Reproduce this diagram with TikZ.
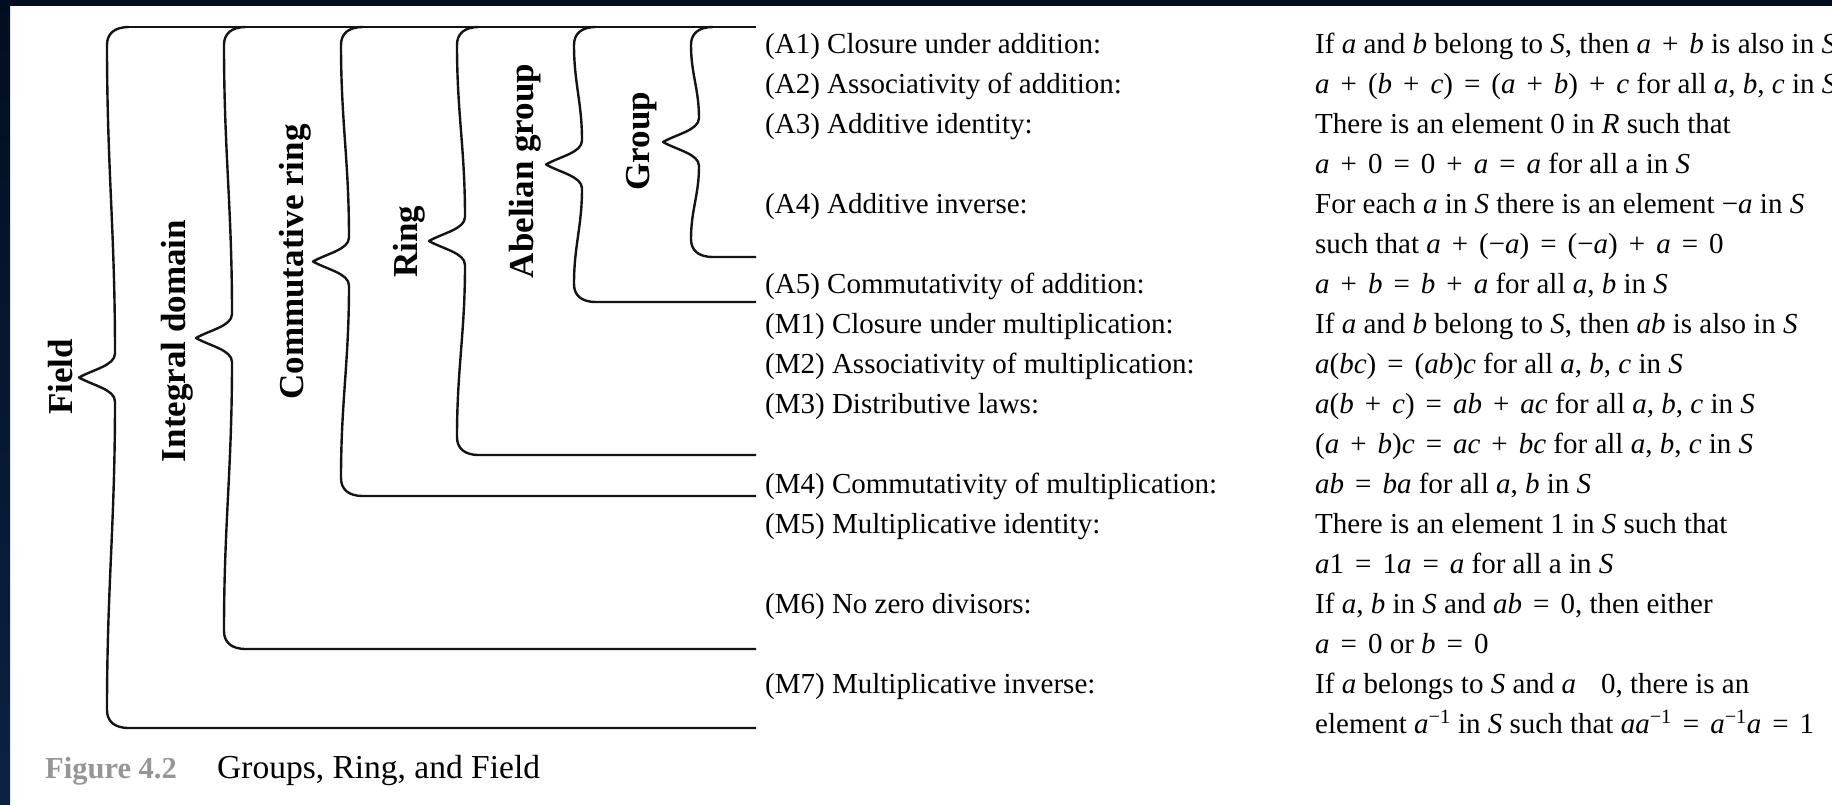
\documentclass[tikz,border=0pt]{standalone}
\usepackage{fontspec}
\setmainfont{Liberation Serif}
\definecolor{navytop}{RGB}{2,14,32}
\definecolor{navybot}{RGB}{10,34,66}
\definecolor{capgray}{RGB}{150,150,150}
\definecolor{ink}{RGB}{20,20,20}
\newcommand{\I}[1]{\textit{#1}}
\newcommand{\op}[1]{\hspace{11pt}#1\hspace{11pt}}
\newcommand{\inv}{\textsuperscript{−1}}
\newcommand{\drawbrace}[2]{%
 \pgfmathsetmacro{\ym}{(27+#2)/2}%
 \pgfmathsetmacro{\La}{(\ym-24-45)*0.4}%
 \draw[brl] ({#1+22},27) .. controls ({#1+7},27) and ({#1},34) .. ({#1},45)
  .. controls ({#1},{45+\La}) and ({#1+8},{\ym-24-\La}) .. ({#1+8},{\ym-24})
  .. controls ({#1+8},{\ym-12}) and ({#1-14},{\ym-8}) .. ({#1-28},\ym)
  .. controls ({#1-14},{\ym+8}) and ({#1+8},{\ym+12}) .. ({#1+8},{\ym+24})
  .. controls ({#1+8},{\ym+24+\La}) and ({#1},{#2-18-\La}) .. ({#1},{#2-18})
  .. controls ({#1},{#2-7}) and ({#1+7},#2) .. ({#1+22},#2) -- (756,#2);
}
\begin{document}
\begin{tikzpicture}[x=1pt,y=-1pt,
  brl/.style={line width=2.4pt, draw=ink, line join=round, line cap=butt},
  vlab/.style={rotate=90, anchor=base, inner sep=0pt, font=\fontsize{35}{40}\selectfont\bfseries},
  txt/.style={anchor=base west, inner sep=0pt, font=\fontsize{29}{35}\selectfont}]
\useasboundingbox (0,0) rectangle (1832,804);
\fill[white] (0,0) rectangle (1832,804);
\fill[navytop] (0,0) rectangle (1832,6);
\shade[top color=navytop, bottom color=navybot] (0,0) rectangle (10,804);

% braces
\draw[brl] (129,27) -- (756,27);
\drawbrace{107}{728}
\drawbrace{224}{649}
\drawbrace{341}{496}
\drawbrace{457}{455}
\drawbrace{574}{302}
\drawbrace{691}{257}

% vertical labels
\node[vlab] (field) at (72,377) {Field};
\node[vlab] (integral) at (185,341) {Integral domain};
\node[vlab] (commring) at (303,262) {Commutative ring};
\node[vlab] (ring) at (417,242) {Ring};
\node[vlab] (abelian) at (533,171) {Abelian group};
\node[vlab] (group) at (649,141) {Group};

% property names
\node[txt] (l0) at (765,53) {(A1) Closure under addition:};
\node[txt] (l1) at (765,93) {(A2) Associativity of addition:};
\node[txt] (l2) at (765,133) {(A3) Additive identity:};
\node[txt] (l4) at (765,213) {(A4) Additive inverse:};
\node[txt] (l6) at (765,293) {(A5) Commutativity of addition:};
\node[txt] (l7) at (765,333) {(M1) Closure under multiplication:};
\node[txt] (l8) at (765,373) {(M2) Associativity of multiplication:};
\node[txt] (l9) at (765,413) {(M3) Distributive laws:};
\node[txt] (l11) at (765,493) {(M4) Commutativity of multiplication:};
\node[txt] (l12) at (765,533) {(M5) Multiplicative identity:};
\node[txt] (l14) at (765,613) {(M6) No zero divisors:};
\node[txt] (l16) at (765,693) {(M7) Multiplicative inverse:};

% descriptions
\node[txt] (d0) at (1315,53) {If \I{a} and \I{b} belong to \I{S}, then \I{a}\op{+}\I{b} is also in \I{S}};
\node[txt] (d1) at (1315,93) {\I{a}\op{+}(\I{b}\op{+}\I{c})\op{=}(\I{a}\op{+}\I{b})\op{+}\I{c} for all \I{a}, \I{b}, \I{c} in \I{S}};
\node[txt] (d2) at (1315,133) {There is an element 0 in \I{R} such that};
\node[txt] (d3) at (1315,173) {\I{a}\op{+}0\op{=}0\op{+}\I{a}\op{=}\I{a} for all a in \I{S}};
\node[txt] (d4) at (1315,213) {For each \I{a} in \I{S} there is an element −\I{a} in \I{S}};
\node[txt] (d5) at (1315,253) {such that \I{a}\op{+}(−\I{a})\op{=}(−\I{a})\op{+}\I{a}\op{=}0};
\node[txt] (d6) at (1315,293) {\I{a}\op{+}\I{b}\op{=}\I{b}\op{+}\I{a} for all \I{a}, \I{b} in \I{S}};
\node[txt] (d7) at (1315,333) {If \I{a} and \I{b} belong to \I{S}, then \I{ab} is also in \I{S}};
\node[txt] (d8) at (1315,373) {\I{a}(\I{bc})\op{=}(\I{ab})\I{c} for all \I{a}, \I{b}, \I{c} in \I{S}};
\node[txt] (d9) at (1315,413) {\I{a}(\I{b}\op{+}\I{c})\op{=}\I{ab}\op{+}\I{ac} for all \I{a}, \I{b}, \I{c} in \I{S}};
\node[txt] (d10) at (1315,453) {(\I{a}\op{+}\I{b})\I{c}\op{=}\I{ac}\op{+}\I{bc} for all \I{a}, \I{b}, \I{c} in \I{S}};
\node[txt] (d11) at (1315,493) {\I{ab}\op{=}\I{ba} for all \I{a}, \I{b} in \I{S}};
\node[txt] (d12) at (1315,533) {There is an element 1 in \I{S} such that};
\node[txt] (d13) at (1315,573) {\I{a}1\op{=}1\I{a}\op{=}\I{a} for all a in \I{S}};
\node[txt] (d14) at (1315,613) {If \I{a}, \I{b} in \I{S} and \I{ab}\op{=}0, then either};
\node[txt] (d15) at (1315,653) {\I{a}\op{=}0 or \I{b}\op{=}0};
\node[txt] (d16) at (1315,693) {If \I{a} belongs to \I{S} and \I{a}\hspace{25pt}0, there is an};
\node[txt] (d17) at (1315,733) {element \I{a}\inv{} in \I{S} such that \I{aa}\inv\op{=}\I{a}\inv\I{a}\op{=}1};

% caption
\node[anchor=base west, inner sep=0pt, text=capgray, font=\fontsize{30.5}{36}\selectfont\bfseries] (fignum) at (45,778) {Figure 4.2};
\node[anchor=base west, inner sep=0pt, font=\fontsize{33.5}{40}\selectfont] (figcap) at (217,778) {Groups, Ring, and Field};
\end{tikzpicture}
\end{document}
